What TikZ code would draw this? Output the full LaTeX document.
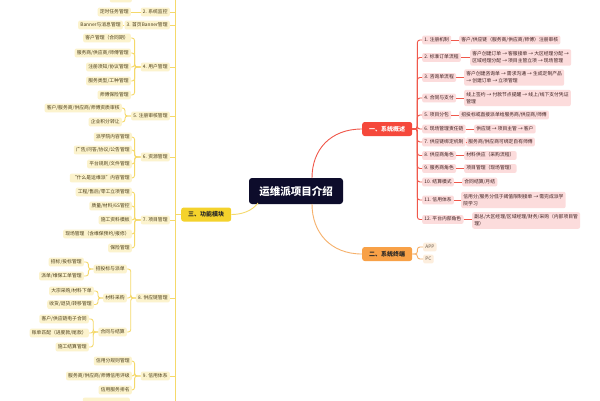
\documentclass[tikz,border=0pt]{standalone}
\usepackage{fontspec}
\setmainfont{Noto Sans CJK SC}
\definecolor{navy}{HTML}{0D0C2B}
\definecolor{rmain}{HTML}{F5483B}
\definecolor{rline}{HTML}{F0584B}
\definecolor{rlight}{HTML}{FCDCDC}
\definecolor{rtext}{HTML}{3B1E1E}
\definecolor{ymain}{HTML}{F4D22C}
\definecolor{yline}{HTML}{F5D96B}
\definecolor{ylight}{HTML}{FCF3CD}
\definecolor{ytext}{HTML}{4A3D1A}
\definecolor{omain}{HTML}{F8A147}
\definecolor{oline}{HTML}{F6B06A}
\definecolor{olight}{HTML}{FDEEDD}
\definecolor{otext}{HTML}{6B5A4A}
\tikzset{
  base/.style={rounded corners=2pt, inner xsep=2.2pt, inner ysep=2pt,
    font=\fontsize{4.8}{7}\selectfont, text height=3.9pt, text depth=1pt},
  ybox/.style={base, fill=ylight, text=ytext},
  rbox/.style={base, fill=rlight, text=rtext},
  obox/.style={base, fill=olight, text=otext},
  rmulti/.style={rounded corners=2pt, inner xsep=2.2pt, inner ysep=2.5pt,
    font=\fontsize{4.8}{7}\selectfont, fill=rlight, text=rtext, align=left},
  mainbox/.style={rounded corners=2.5pt, inner xsep=0pt, inner ysep=0pt,
    minimum width=50pt, minimum height=14pt, font=\fontsize{6}{7}\selectfont\bfseries},
  yl/.style={draw=yline, line width=0.9pt, rounded corners=2.5pt},
  rl/.style={draw=rline, line width=0.9pt, rounded corners=2.5pt},
  ol/.style={draw=oline, line width=0.9pt, rounded corners=2.5pt},
}
\begin{document}
\begin{tikzpicture}[x=1pt,y=-1pt]
\useasboundingbox (0,0) rectangle (600,400);
\fill[white] (0,0) rectangle (600,400);
\clip (0,0) rectangle (600,400);

% centre
\node[fill=navy, text=white, rounded corners=3pt, minimum width=94pt, minimum height=26pt,
  inner sep=0pt, font=\fontsize{10.5}{12}\selectfont\bfseries] (c) at (296,191) {运维派项目介绍};

% main branches
\node[mainbox, fill=rmain, text=white, anchor=west] (R) at (362,129) {一、系统概述};
\node[mainbox, fill=omain, text=black!85, anchor=west] (O) at (362,254) {二、系统终端};
\node[mainbox, fill=ymain, text=black!85, anchor=west] (Y) at (181,214.5) {三、功能模块};

\draw[rl] (312,178) .. controls (312,150) and (330,129) .. (R.west);
\draw[ol] (312,204) .. controls (312,232) and (330,254) .. (O.west);
\draw[yl] (258,203) .. controls (252,211) and (242,214.5) .. (Y.east);

% ---------------- right: system overview ----------------
\node[rbox, anchor=west] (r1) at (422,40) {1. 注册机制};
\node[rbox, anchor=west] (r2) at (422,57.5) {2. 标准订单流程};
\node[rbox, anchor=west] (r3) at (422,77.5) {3. 咨询单流程};
\node[rbox, anchor=west] (r4) at (422,98) {4. 合同与支付};
\node[rbox, anchor=west] (r5) at (422,115) {5. 项目分包};
\node[rbox, anchor=west] (r6) at (422,129) {6. 现场管理责任链};
\node[rbox, anchor=west] (r7) at (422,142) {7. 供应链绑定机制};
\node[rbox, anchor=west] (r8) at (422,155.5) {8. 供应商角色};
\node[rbox, anchor=west] (r9) at (422,168.5) {9. 服务商角色};
\node[rbox, anchor=west] (r10) at (422,182) {10. 结算模式};
\node[rbox, anchor=west] (r11) at (422,200) {11. 信用体系};
\node[rbox, anchor=west] (r12) at (422,219.5) {12. 平台内部角色};

\node[rbox, anchor=west] (s1) at (459,40) {客户/供应链（服务商/供应商/师傅）注册审核};
\node[rmulti, anchor=west] (s2) at (470,57.5) {客户创建订单 → 客服接单 → 大区经理分配 →\\区域经理分配 → 项目主管立项 → 现场管理};
\node[rmulti, anchor=west] (s3) at (464,77.5) {客户创建咨询单 → 需求沟通 → 生成定制产品\\→ 创建订单 → 立项管理};
\node[rmulti, anchor=west] (s4) at (464,98) {线上签约 → 付款节点提醒 → 线上/线下支付凭证\\管理};
\node[rbox, anchor=west] (s5) at (459,115) {招投标或直接派单给服务商/供应商/师傅};
\node[rbox, anchor=west] (s6) at (474,129) {供应链 → 项目主管 → 客户};
\node[rbox, anchor=west] (s7) at (466,142) {服务商/供应商可绑定自有师傅};
\node[rbox, anchor=west] (s8) at (464,155.5) {材料供应（采购流程）};
\node[rbox, anchor=west] (s9) at (464,168.5) {项目管理（现场管理）};
\node[rbox, anchor=west] (s10) at (462,182) {合同结算/月结};
\node[rmulti, anchor=west] (s11) at (461,200) {信用分/服务分低于阈值限制接单 → 需完成派学\\院学习};
\node[rmulti, anchor=west] (s12) at (472,220.5) {副总/大区经理/区域经理/财务/采购（内部项目管\\理）};

\foreach \i in {1,...,12}{
  \draw[rl] (R.east) -- ++(5,0) |- (r\i.west);
  \draw[rl] (r\i.east) -- (s\i.west |- r\i.east);
}

% ---------------- orange: terminals ----------------
\node[obox, anchor=west] (app) at (423,247) {APP};
\node[obox, anchor=west] (pc) at (423,259) {PC};
\draw[ol] (O.east) -- ++(5,0) |- (app.west);
\draw[ol] (O.east) -- ++(5,0) |- (pc.west);

% ---------------- left: function modules ----------------
\coordinate (sp) at (175,214.5);
\draw[draw=yline, line width=0.9pt] (175,-10) -- (175,410);
\draw[yl] (Y.west) -- (sp);

\node[ybox, anchor=east] (l2) at (170,12) {2. 系统监控};
\node[ybox, anchor=east] (l3) at (170,25) {3. 首页Banner管理};
\node[ybox, anchor=east] (l4) at (170,67) {4. 用户管理};
\node[ybox, anchor=east] (l5) at (170,116) {5. 注册审核管理};
\node[ybox, anchor=east] (l6) at (170,157) {6. 资源管理};
\node[ybox, anchor=east] (l7) at (170,220) {7. 项目管理};
\node[ybox, anchor=east] (l8) at (170,298) {8. 供应链管理};
\node[ybox, anchor=east] (l9) at (170,376) {9. 信用体系};
\foreach \n in {l2,l3,l4,l5,l6,l7,l8,l9}{
  \draw[yl] (175,0 |- \n.east) -- (\n.east);
}

% partial boxes cut by the frame (their text lies outside the picture)
\node[ybox, anchor=east, minimum width=22pt] (ltop) at (132,-2) {};
\node[ybox, anchor=east, minimum width=47pt] (lbot) at (130,402) {};

% level 2 children
\node[ybox, anchor=east] (a1) at (131,12) {定时任务管理};
\draw[yl] (l2.west) -- (a1.east);
\node[ybox, anchor=east] (b1) at (123,25) {Banner与消息管理};
\draw[yl] (l3.west) -- (b1.east);

\node[ybox, anchor=east] (u1) at (131,38) {客户管理（合同期）};
\node[ybox, anchor=east] (u2) at (131,53) {服务商/供应商/师傅管理};
\node[ybox, anchor=east] (u3) at (131,67) {注册须知/协议管理};
\node[ybox, anchor=east] (u4) at (131,81) {服务类型/工种管理};
\node[ybox, anchor=east] (u5) at (131,95) {师傅保险管理};
\foreach \n in {u1,u2,u3,u4,u5}{ \draw[yl] (l4.west) -- ++(-6,0) |- (\n.east); }

\node[ybox, anchor=east] (v1) at (122,108) {客户/服务商/供应商/师傅资质审核};
\node[ybox, anchor=east] (v2) at (122,122) {企业积分转让};
\foreach \n in {v1,v2}{ \draw[yl] (l5.west) -- ++(-6,0) |- (\n.east); }

\node[ybox, anchor=east] (w1) at (132,137) {派学院内容管理};
\node[ybox, anchor=east] (w2) at (132,150) {广告/问答/协议/公告管理};
\node[ybox, anchor=east] (w3) at (132,164) {平台规则/文件管理};
\node[ybox, anchor=east] (w4) at (132,178) {“什么是运维派”内容管理};
\foreach \n in {w1,w2,w3,w4}{ \draw[yl] (l6.west) -- ++(-6,0) |- (\n.east); }

\node[ybox, anchor=east] (p1) at (132,192) {工程/售后/零工立项管理};
\node[ybox, anchor=east] (p2) at (132,206) {质量/材料/6S管控};
\node[ybox, anchor=east] (p3) at (132,220) {施工资料模板};
\node[ybox, anchor=east] (p4) at (132,234) {现场管理（含维保预约/报修）};
\node[ybox, anchor=east] (p5) at (132,248) {保险管理};
\foreach \n in {p1,p2,p3,p4,p5}{ \draw[yl] (l7.west) -- ++(-6,0) |- (\n.east); }

\node[ybox, anchor=east] (q1) at (127,269) {招投标与派单};
\node[ybox, anchor=east] (q2) at (127,298) {材料采购};
\node[ybox, anchor=east] (q3) at (127,332) {合同与结算};
\foreach \n in {q1,q2,q3}{ \draw[yl] (l8.west) -- ++(-5,0) |- (\n.east); }

\node[ybox, anchor=east] (q11) at (84,262) {招标/投标管理};
\node[ybox, anchor=east] (q12) at (84,276) {派单/维保工单管理};
\foreach \n in {q11,q12}{ \draw[yl] (q1.west) -- ++(-5,0) |- (\n.east); }
\node[ybox, anchor=east] (q21) at (94,291) {大宗采购/材料下单};
\node[ybox, anchor=east] (q22) at (94,304.5) {收货/退货/转移管理};
\foreach \n in {q21,q22}{ \draw[yl] (q2.west) -- ++(-5,0) |- (\n.east); }
\node[ybox, anchor=east] (q31) at (89,319) {客户/供应链电子合同};
\node[ybox, anchor=east] (q32) at (89,333) {账单匹配（进度款/尾款）};
\node[ybox, anchor=east] (q33) at (89,347) {施工结算管理};
\foreach \n in {q31,q32,q33}{ \draw[yl] (q3.west) -- ++(-5,0) |- (\n.east); }

\node[ybox, anchor=east] (t1) at (132,361) {信用分规则管理};
\node[ybox, anchor=east] (t2) at (132,376) {服务商/供应商/师傅信用评级};
\node[ybox, anchor=east] (t3) at (132,390) {信用服务排名};
\foreach \n in {t1,t2,t3}{ \draw[yl] (l9.west) -- ++(-6,0) |- (\n.east); }
\end{tikzpicture}
\end{document}
